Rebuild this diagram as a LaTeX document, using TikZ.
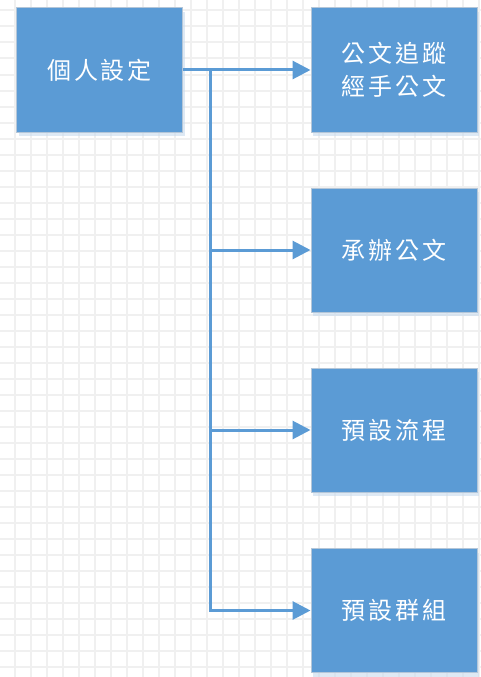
\documentclass[tikz,border=0pt]{standalone}
\usepackage{fontspec}
\newfontfamily\cjk[LetterSpace=12]{Noto Sans CJK TC}
\usetikzlibrary{arrows.meta,shadows}
\definecolor{boxblue}{HTML}{5B9BD5}
\definecolor{boxedge}{HTML}{B4C6D8}
\definecolor{gridgray}{HTML}{F0F0F0}
\definecolor{shadowblue}{HTML}{C9DBEE}
\tikzset{
  box/.style={rectangle, fill=boxblue, draw=boxedge, line width=1pt,
    minimum width=166pt, minimum height=124pt, inner sep=0pt,
    text=white, align=center, font=\cjk\fontsize{24}{33}\selectfont,
    drop shadow={shadow xshift=2pt, shadow yshift=-4pt, fill=shadowblue, opacity=0.6}},
  conn/.style={draw=boxblue, line width=3pt,
    -{Triangle[length=18pt,width=18pt]}},
}
\begin{document}
\begin{tikzpicture}[x=1pt,y=-1pt]
\useasboundingbox (0,0) rectangle (481,677);
\fill[white] (0,0) rectangle (481,677);
% grid
\foreach \i in {0,...,29} {
  \draw[gridgray, line width=2pt] ({15+16*\i},0) -- ({15+16*\i},677);
}
\foreach \j in {0,...,42} {
  \draw[gridgray, line width=2pt] (0,{10.5+16*\j}) -- (481,{10.5+16*\j});
}
\node[box] (A) at (99.5,70) {個人設定};
\node[box] (B) at (394,70) {公文追蹤\\經手公文};
\node[box] (C) at (394,250) {承辦公文};
\node[box] (D) at (394,430) {預設流程};
\node[box] (E) at (394,610.5) {預設群組};
\coordinate (T) at (210,70);
\draw[conn] (A.east) -- (B.west);
\draw[conn] (T) |- (C.west);
\draw[conn] (T) |- (D.west);
\draw[conn] (T) |- (E.west);
\end{tikzpicture}
\end{document}
